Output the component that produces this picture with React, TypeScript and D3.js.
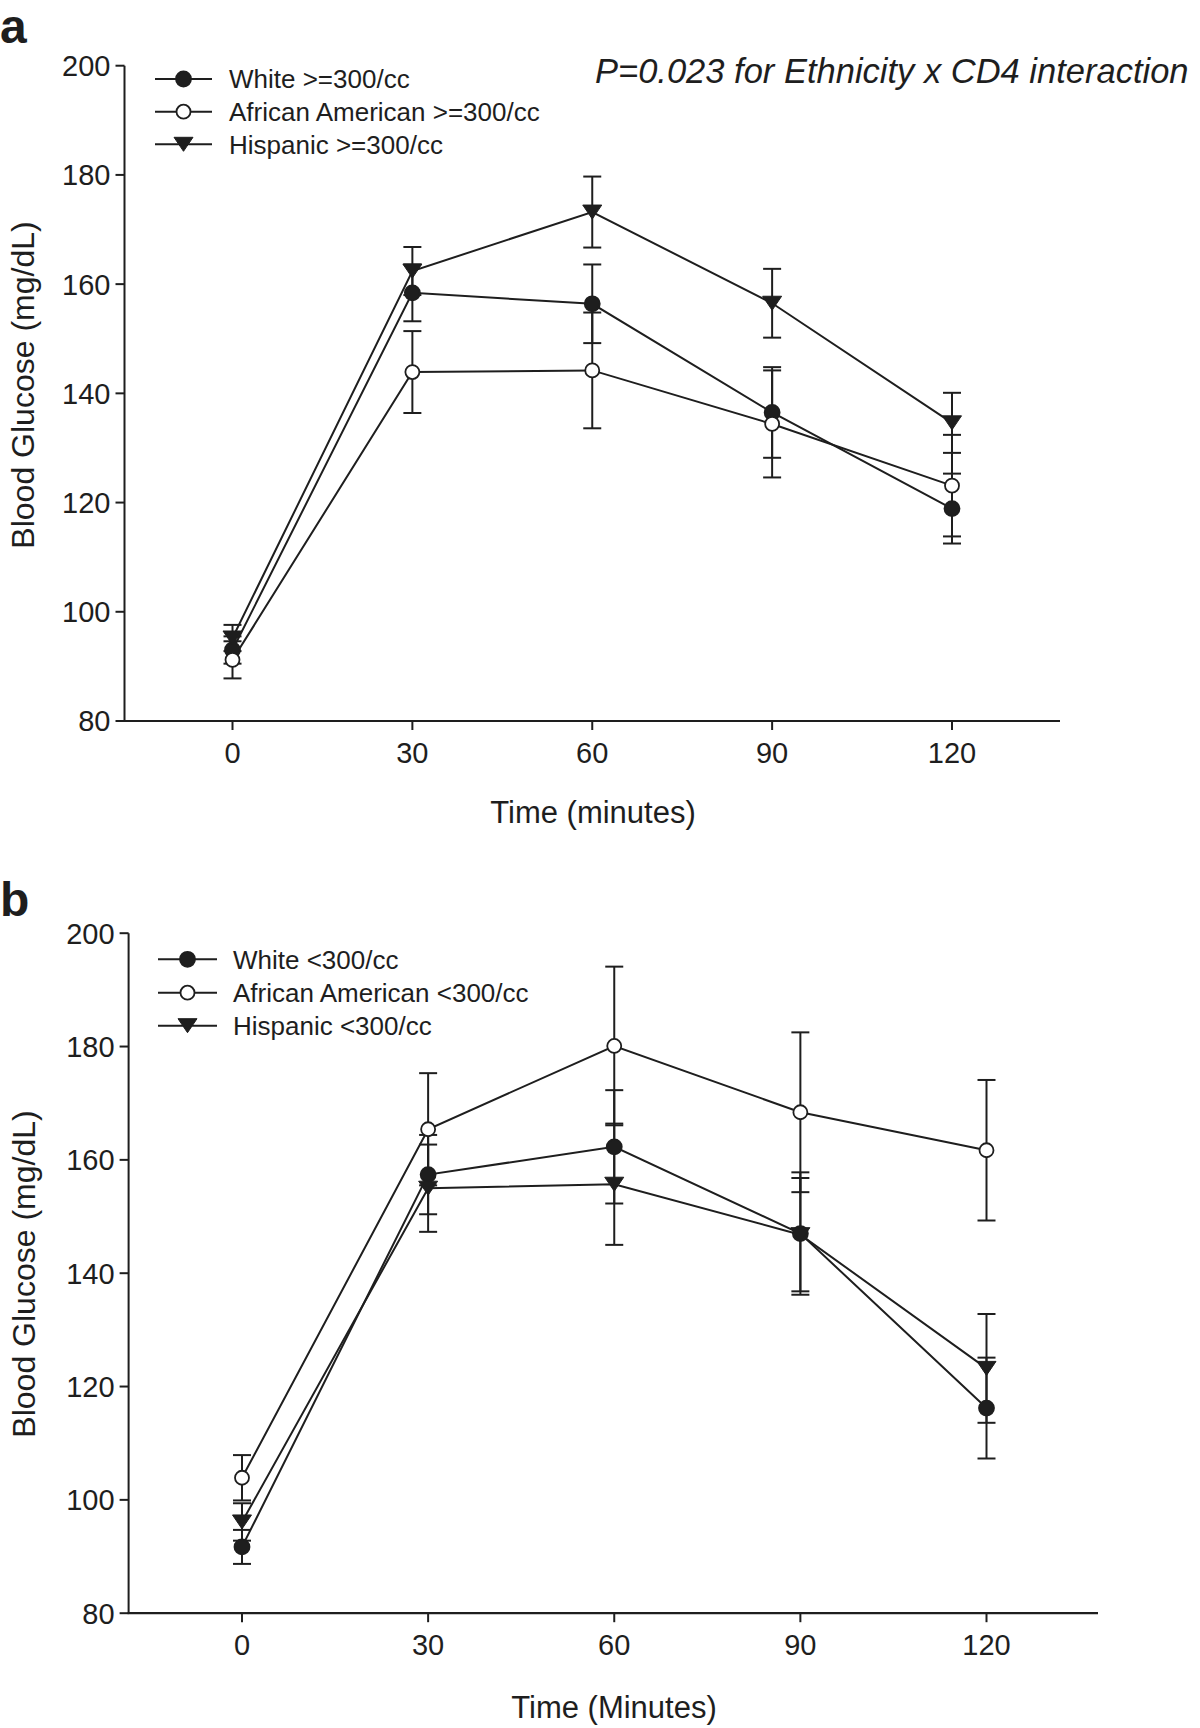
import React from "react";
import * as d3 from "d3";

// ---- data ----
const times = [0, 30, 60, 90, 120];
const xTickLabels = ["0", "30", "60", "90", "120"];
const yTicks = [80, 100, 120, 140, 160, 180, 200];

// Panel a (CD4 >= 300/cc)
const whiteHigh = [93.0, 158.4, 156.4, 136.5, 118.9];
const whiteHighErr = [2.5, 5.2, 7.2, 8.3, 6.4];
const aaHigh = [91.2, 143.9, 144.2, 134.4, 123.1];
const aaHighErr = [3.4, 7.5, 10.6, 9.8, 9.3];
const hispHigh = [95.2, 162.4, 173.2, 156.5, 134.6];
const hispHighErr = [2.4, 4.4, 6.5, 6.3, 5.5];

// Panel b (CD4 < 300/cc)
const whiteLow = [91.7, 157.4, 162.3, 147.0, 116.2];
const whiteLowErr = [3.0, 7.0, 10.0, 10.8, 8.9];
const aaLow = [103.9, 165.4, 180.1, 168.4, 161.7];
const aaLowErr = [4.0, 9.9, 14.0, 14.1, 12.4];
const hispLow = [96.1, 155.0, 155.7, 146.8, 123.2];
const hispLowErr = [3.3, 7.7, 10.7, 10.0, 9.6];

const legendA = ["White >=300/cc", "African American >=300/cc", "Hispanic >=300/cc"];
const legendB = ["White <300/cc", "African American <300/cc", "Hispanic <300/cc"];

const FONT = "'Liberation Sans', Arial, Helvetica, sans-serif";
const INK = "#1e1e1e";

type Kind = "filled" | "open" | "tri";

function Marker({ kind, x, y }: { kind: Kind; x: number; y: number }) {
  if (kind === "tri") {
    const w = 9.5, h = 7;
    return (
      <path
        d={`M${x - w},${y - h}L${x + w},${y - h}L${x},${y + h}Z`}
        fill={INK}
        stroke={INK}
        strokeWidth={1}
        strokeLinejoin="round"
      />
    );
  }
  return (
    <circle
      cx={x}
      cy={y}
      r={kind === "filled" ? 7.5 : 7}
      fill={kind === "filled" ? INK : "#fff"}
      stroke={INK}
      strokeWidth={1.8}
    />
  );
}

interface Series {
  kind: Kind;
  values: number[];
  errs: number[];
}

interface PanelProps {
  letter: string;
  letterY: number;
  axisX: number;
  axisRight: number;
  x0: number;
  x120: number;
  y80: number;
  y200: number;
  series: Series[];
  legend: string[];
  legLineX0: number;
  legLineX1: number;
  legTextX: number;
  legRows: number[];
  xTitle: string;
  xTitleX: number;
  xTitleY: number;
  yTitleX: number;
  yTitleY: number;
}

function Panel(p: PanelProps) {
  const x = d3.scaleLinear().domain([0, 120]).range([p.x0, p.x120]);
  const y = d3.scaleLinear().domain([80, 200]).range([p.y80, p.y200]);
  const line = d3
    .line<number>()
    .x((_, i) => x(times[i]))
    .y((d) => y(d));
  const cap = 9;
  const legMarkX = (p.legLineX0 + p.legLineX1) / 2;
  return (
    <g>
      <text x={0} y={p.letterY} fontFamily={FONT} fontWeight="bold" fontSize={48} fill={INK}>
        {p.letter}
      </text>
      {/* axes */}
      <line x1={p.axisX} x2={p.axisX} y1={p.y80} y2={y(200)} stroke={INK} strokeWidth={2} />
      <line x1={p.axisX - 1} x2={p.axisRight} y1={p.y80} y2={p.y80} stroke={INK} strokeWidth={2.2} />
      {yTicks.map((t) => (
        <g key={"y" + t}>
          <line x1={p.axisX - 9} x2={p.axisX} y1={y(t)} y2={y(t)} stroke={INK} strokeWidth={2} />
          <text
            x={p.axisX - 14}
            y={y(t)}
            dy="0.36em"
            textAnchor="end"
            fontFamily={FONT}
            fontSize={29}
            fill={INK}
          >
            {t}
          </text>
        </g>
      ))}
      {times.map((t, i) => (
        <g key={"x" + t}>
          <line x1={x(t)} x2={x(t)} y1={p.y80} y2={p.y80 + 9} stroke={INK} strokeWidth={2} />
          <text
            x={x(t)}
            y={p.y80 + 42}
            textAnchor="middle"
            fontFamily={FONT}
            fontSize={29}
            fill={INK}
          >
            {xTickLabels[i]}
          </text>
        </g>
      ))}
      <text
        x={p.xTitleX}
        y={p.xTitleY}
        textAnchor="middle"
        fontFamily={FONT}
        fontSize={31}
        fill={INK}
      >
        {p.xTitle}
      </text>
      <text
        transform={`translate(${p.yTitleX},${p.yTitleY}) rotate(-90)`}
        textAnchor="middle"
        fontFamily={FONT}
        fontSize={32}
        fill={INK}
      >
        Blood Glucose (mg/dL)
      </text>
      {/* lines */}
      {p.series.map((s, si) => (
        <path key={"l" + si} d={line(s.values) || ""} fill="none" stroke={INK} strokeWidth={2} />
      ))}
      {/* error bars */}
      {p.series.map((s, si) =>
        s.values.map((v, i) => {
          const cx = x(times[i]);
          const hi = y(v + s.errs[i]);
          const lo = y(v - s.errs[i]);
          return (
            <g key={"e" + si + "-" + i} stroke={INK} strokeWidth={2}>
              <line x1={cx} x2={cx} y1={hi} y2={lo} />
              <line x1={cx - cap} x2={cx + cap} y1={hi} y2={hi} />
              <line x1={cx - cap} x2={cx + cap} y1={lo} y2={lo} />
            </g>
          );
        })
      )}
      {/* markers */}
      {p.series.map((s, si) =>
        s.values.map((v, i) => <Marker key={"m" + si + "-" + i} kind={s.kind} x={x(times[i])} y={y(v)} />)
      )}
      {/* legend */}
      {p.series.map((s, si) => (
        <g key={"lg" + si}>
          <line
            x1={p.legLineX0}
            x2={p.legLineX1}
            y1={p.legRows[si]}
            y2={p.legRows[si]}
            stroke={INK}
            strokeWidth={2}
          />
          <Marker kind={s.kind} x={legMarkX} y={p.legRows[si]} />
          <text
            x={p.legTextX}
            y={p.legRows[si]}
            dy="0.36em"
            fontFamily={FONT}
            fontSize={26}
            fill={INK}
          >
            {p.legend[si]}
          </text>
        </g>
      ))}
    </g>
  );
}

export default function App() {
  const seriesA: Series[] = [
    { kind: "filled", values: whiteHigh, errs: whiteHighErr },
    { kind: "open", values: aaHigh, errs: aaHighErr },
    { kind: "tri", values: hispHigh, errs: hispHighErr },
  ];
  const seriesB: Series[] = [
    { kind: "filled", values: whiteLow, errs: whiteLowErr },
    { kind: "open", values: aaLow, errs: aaLowErr },
    { kind: "tri", values: hispLow, errs: hispLowErr },
  ];
  return (
    <svg
      width={1200}
      height={1728}
      viewBox="0 0 1200 1728"
      style={{ position: "absolute", left: 0, top: 0, background: "#fff" }}
    >
      <rect width={1200} height={1728} fill="#fff" />
      <Panel
        letter="a"
        letterY={43}
        axisX={124.5}
        axisRight={1060}
        x0={232.5}
        x120={952}
        y80={721}
        y200={65.7}
        series={seriesA}
        legend={legendA}
        legLineX0={155}
        legLineX1={212}
        legTextX={229}
        legRows={[79, 111.7, 144.3]}
        xTitle="Time (minutes)"
        xTitleX={593}
        xTitleY={823}
        yTitleX={34}
        yTitleY={385}
      />
      <text
        x={595}
        y={83}
        fontFamily={FONT}
        fontStyle="italic"
        fontSize={34.5}
        fill={INK}
      >
        P=0.023 for Ethnicity x CD4 interaction
      </text>
      <Panel
        letter="b"
        letterY={916}
        axisX={128.6}
        axisRight={1098}
        x0={242}
        x120={986.5}
        y80={1613.2}
        y200={933.2}
        series={seriesB}
        legend={legendB}
        legLineX0={158}
        legLineX1={217}
        legTextX={233}
        legRows={[959.3, 992.7, 1025.7]}
        xTitle="Time (Minutes)"
        xTitleX={614}
        xTitleY={1718}
        yTitleX={35}
        yTitleY={1274}
      />
    </svg>
  );
}
